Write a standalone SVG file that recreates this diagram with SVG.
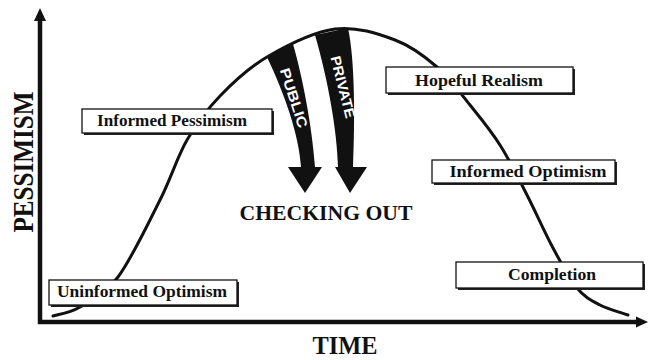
<svg xmlns="http://www.w3.org/2000/svg" width="649" height="360" viewBox="0 0 649 360">
<style>
.lbl{font-family:"Liberation Serif","Times New Roman",serif;font-weight:bold;fill:#111;}
.box{fill:#fff;stroke:#111;stroke-width:1.3;}
.shadow{fill:#222;}
.ax{stroke:#111;stroke-width:4.5;fill:none;}
.arrtxt{font-family:"Liberation Sans",Arial,sans-serif;font-weight:bold;fill:#fff;font-size:14px;}
</style>
<rect width="649" height="360" fill="#fff"/>
<g id="connectors">
  <line class="ax" x1="40" y1="324" x2="40" y2="18"/>
  <polygon points="40,8 34,21 46,21" fill="#111"/>
  <line class="ax" x1="38" y1="322" x2="638" y2="322"/>
  <polygon points="648,322 636,316.5 636,327.5" fill="#111"/>
  <path id="curve" fill="none" stroke="#111" stroke-width="3" stroke-linecap="round"
    d="M53,316 C57.5,314.5 69.2,313.5 80,307 C90.8,300.5 104.7,294.8 118,277 C131.3,259.2 148.5,222.8 160,200 C171.5,177.2 177,157.3 187,140 C197,122.7 206.7,109.8 220,96 C233.3,82.2 247.8,68.2 267,57 C286.2,45.8 313.7,31.8 335,29 C356.3,26.2 378,33.7 395,40 C412,46.3 424.5,56.2 437,67 C449.5,77.8 459.5,92 470,105 C480.5,118 490.5,130 500,145 C509.5,160 518.2,177.8 527,195 C535.8,212.2 544.7,232.5 553,248 C561.3,263.5 569.2,278.5 577,288 C584.8,297.5 591.5,300.5 600,305 C608.5,309.5 623.3,313.3 628,315"/>
</g>
<g id="public">
  <path fill="#111" d="M267,57 L293,44 C302,75 312,125 315,167 L322,167 L305,193 L288,167 L301,167 C299,135 285,95 267,57 Z"/>
  <text class="arrtxt" transform="translate(294,98) rotate(72)" text-anchor="middle" dominant-baseline="central" textLength="62" lengthAdjust="spacingAndGlyphs">PUBLIC</text>
</g>
<g id="private">
  <path fill="#111" d="M315,35 L348,28 C355,60 355,120 353,167 L367,167 L350,193 L335,167 L338,167 C337,130 328,80 315,35 Z"/>
  <text class="arrtxt" transform="translate(343,87) rotate(76)" text-anchor="middle" dominant-baseline="central" textLength="64" lengthAdjust="spacingAndGlyphs">PRIVATE</text>
</g>
<g id="checking-out">
  <text class="lbl" x="326" y="220" font-size="21" text-anchor="middle" textLength="173" lengthAdjust="spacingAndGlyphs">CHECKING OUT</text>
</g>
<g id="uninformed-optimism">
  <rect class="shadow" x="51" y="282" width="188" height="25"/>
  <rect class="box" x="49" y="280" width="188" height="25"/>
  <text class="lbl" x="142" y="297" font-size="17.5" text-anchor="middle" textLength="170" lengthAdjust="spacingAndGlyphs">Uninformed Optimism</text>
</g>
<g id="informed-pessimism">
  <rect class="shadow" x="84" y="111" width="190" height="24"/>
  <rect class="box" x="82" y="109" width="190" height="24"/>
  <text class="lbl" x="172" y="126" font-size="17.5" text-anchor="middle" textLength="150" lengthAdjust="spacingAndGlyphs">Informed Pessimism</text>
</g>
<g id="hopeful-realism">
  <rect class="shadow" x="388" y="69" width="187" height="26"/>
  <rect class="box" x="386" y="67" width="187" height="26"/>
  <text class="lbl" x="479" y="86" font-size="17.5" text-anchor="middle" textLength="128" lengthAdjust="spacingAndGlyphs">Hopeful Realism</text>
</g>
<g id="informed-optimism">
  <rect class="shadow" x="434" y="162" width="183" height="23"/>
  <rect class="box" x="432" y="160" width="183" height="23"/>
  <text class="lbl" x="528" y="177" font-size="17.5" text-anchor="middle" textLength="157" lengthAdjust="spacingAndGlyphs">Informed Optimism</text>
</g>
<g id="completion">
  <rect class="shadow" x="458" y="264" width="187" height="26"/>
  <rect class="box" x="456" y="262" width="187" height="26"/>
  <text class="lbl" x="552" y="280" font-size="17.5" text-anchor="middle" textLength="88" lengthAdjust="spacingAndGlyphs">Completion</text>
</g>
<g id="y-label">
  <text class="lbl" transform="translate(33,162) rotate(-90)" font-size="30" text-anchor="middle" textLength="141" lengthAdjust="spacingAndGlyphs">PESSIMISM</text>
</g>
<g id="x-label">
  <text class="lbl" x="345" y="354" font-size="25" text-anchor="middle" textLength="65" lengthAdjust="spacingAndGlyphs">TIME</text>
</g>
</svg>
